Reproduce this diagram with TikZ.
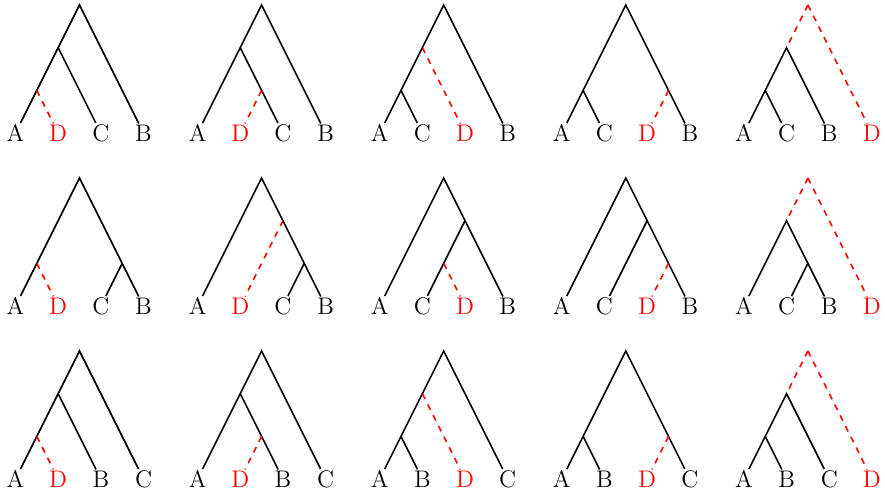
\documentclass[tikz,border=0pt]{standalone}
\usepackage{tikz}

\tikzset{
  leaf/.style={inner sep=0.5pt, font=\large},
  branch/.style={black, thick},
  added/.style={red, thick, dashed}
}

\begin{document}
\begin{tikzpicture}
\useasboundingbox (-0.272,-6.345) rectangle (15.28,2.338);
% row 1
\begin{scope}[shift={(0,0)}]
  \node[leaf] (A1) at (0,0) {A}; \node[leaf,red] (D1) at (0.75,0) {D}; \node[leaf] (C1) at (1.5,0) {C}; \node[leaf] (B1) at (2.25,0) {B};
  \coordinate (r1) at (1.125,2.25); \coordinate (m1) at (0.75,1.5); \coordinate (p1) at (0.375,0.75);
  \draw[branch] (A1) -- (r1) -- (B1) (m1) -- (C1);
  \draw[added] (p1) -- (D1);
\end{scope}
\begin{scope}[shift={(3.2,0)}]
  \node[leaf] (A2) at (0,0) {A}; \node[leaf,red] (D2) at (0.75,0) {D}; \node[leaf] (C2) at (1.5,0) {C}; \node[leaf] (B2) at (2.25,0) {B};
  \coordinate (r2) at (1.125,2.25); \coordinate (m2) at (0.75,1.5); \coordinate (p2) at (1.125,0.75);
  \draw[branch] (A2) -- (r2) -- (B2) (m2) -- (C2);
  \draw[added] (p2) -- (D2);
\end{scope}
\begin{scope}[shift={(6.4,0)}]
  \node[leaf] (A3) at (0,0) {A}; \node[leaf] (C3) at (0.75,0) {C}; \node[leaf,red] (D3) at (1.5,0) {D}; \node[leaf] (B3) at (2.25,0) {B};
  \coordinate (r3) at (1.125,2.25); \coordinate (m3) at (0.375,0.75); \coordinate (p3) at (0.75,1.5);
  \draw[branch] (A3) -- (r3) -- (B3) (m3) -- (C3);
  \draw[added] (p3) -- (D3);
\end{scope}
\begin{scope}[shift={(9.6,0)}]
  \node[leaf] (A4) at (0,0) {A}; \node[leaf] (C4) at (0.75,0) {C}; \node[leaf,red] (D4) at (1.5,0) {D}; \node[leaf] (B4) at (2.25,0) {B};
  \coordinate (r4) at (1.125,2.25); \coordinate (m4) at (0.375,0.75); \coordinate (p4) at (1.875,0.75);
  \draw[branch] (A4) -- (r4) -- (B4) (m4) -- (C4);
  \draw[added] (p4) -- (D4);
\end{scope}
\begin{scope}[shift={(12.8,0)}]
  \node[leaf] (A5) at (0,0) {A}; \node[leaf] (C5) at (0.75,0) {C}; \node[leaf] (B5) at (1.5,0) {B}; \node[leaf,red] (D5) at (2.25,0) {D};
  \coordinate (r5) at (1.125,2.25); \coordinate (m5) at (0.375,0.75); \coordinate (n5) at (0.75,1.5);
  \draw[branch] (A5) -- (n5) -- (B5) (m5) -- (C5);
  \draw[added] (r5) -- (n5) (r5) -- (D5);
\end{scope}
% row 2
\begin{scope}[shift={(0,-3.04)}]
  \node[leaf] (A6) at (0,0) {A}; \node[leaf,red] (D6) at (0.75,0) {D}; \node[leaf] (C6) at (1.5,0) {C}; \node[leaf] (B6) at (2.25,0) {B};
  \coordinate (r6) at (1.125,2.25); \coordinate (m6) at (1.875,0.75); \coordinate (p6) at (0.375,0.75);
  \draw[branch] (A6) -- (r6) -- (B6) (m6) -- (C6);
  \draw[added] (p6) -- (D6);
\end{scope}
\begin{scope}[shift={(3.2,-3.04)}]
  \node[leaf] (A7) at (0,0) {A}; \node[leaf,red] (D7) at (0.75,0) {D}; \node[leaf] (C7) at (1.5,0) {C}; \node[leaf] (B7) at (2.25,0) {B};
  \coordinate (r7) at (1.125,2.25); \coordinate (m7) at (1.875,0.75); \coordinate (p7) at (1.5,1.5);
  \draw[branch] (A7) -- (r7) -- (B7) (m7) -- (C7);
  \draw[added] (p7) -- (D7);
\end{scope}
\begin{scope}[shift={(6.4,-3.04)}]
  \node[leaf] (A8) at (0,0) {A}; \node[leaf] (C8) at (0.75,0) {C}; \node[leaf,red] (D8) at (1.5,0) {D}; \node[leaf] (B8) at (2.25,0) {B};
  \coordinate (r8) at (1.125,2.25); \coordinate (m8) at (1.5,1.5); \coordinate (p8) at (1.125,0.75);
  \draw[branch] (A8) -- (r8) -- (B8) (m8) -- (C8);
  \draw[added] (p8) -- (D8);
\end{scope}
\begin{scope}[shift={(9.6,-3.04)}]
  \node[leaf] (A9) at (0,0) {A}; \node[leaf] (C9) at (0.75,0) {C}; \node[leaf,red] (D9) at (1.5,0) {D}; \node[leaf] (B9) at (2.25,0) {B};
  \coordinate (r9) at (1.125,2.25); \coordinate (m9) at (1.5,1.5); \coordinate (p9) at (1.875,0.75);
  \draw[branch] (A9) -- (r9) -- (B9) (m9) -- (C9);
  \draw[added] (p9) -- (D9);
\end{scope}
\begin{scope}[shift={(12.8,-3.04)}]
  \node[leaf] (A10) at (0,0) {A}; \node[leaf] (C10) at (0.75,0) {C}; \node[leaf] (B10) at (1.5,0) {B}; \node[leaf,red] (D10) at (2.25,0) {D};
  \coordinate (r10) at (1.125,2.25); \coordinate (m10) at (1.125,0.75); \coordinate (n10) at (0.75,1.5);
  \draw[branch] (A10) -- (n10) -- (B10) (m10) -- (C10);
  \draw[added] (r10) -- (n10) (r10) -- (D10);
\end{scope}
% row 3
\begin{scope}[shift={(0,-6.08)}]
  \node[leaf] (A11) at (0,0) {A}; \node[leaf,red] (D11) at (0.75,0) {D}; \node[leaf] (B11) at (1.5,0) {B}; \node[leaf] (C11) at (2.25,0) {C};
  \coordinate (r11) at (1.125,2.25); \coordinate (m11) at (0.75,1.5); \coordinate (p11) at (0.375,0.75);
  \draw[branch] (A11) -- (r11) -- (C11) (m11) -- (B11);
  \draw[added] (p11) -- (D11);
\end{scope}
\begin{scope}[shift={(3.2,-6.08)}]
  \node[leaf] (A12) at (0,0) {A}; \node[leaf,red] (D12) at (0.75,0) {D}; \node[leaf] (B12) at (1.5,0) {B}; \node[leaf] (C12) at (2.25,0) {C};
  \coordinate (r12) at (1.125,2.25); \coordinate (m12) at (0.75,1.5); \coordinate (p12) at (1.125,0.75);
  \draw[branch] (A12) -- (r12) -- (C12) (m12) -- (B12);
  \draw[added] (p12) -- (D12);
\end{scope}
\begin{scope}[shift={(6.4,-6.08)}]
  \node[leaf] (A13) at (0,0) {A}; \node[leaf] (B13) at (0.75,0) {B}; \node[leaf,red] (D13) at (1.5,0) {D}; \node[leaf] (C13) at (2.25,0) {C};
  \coordinate (r13) at (1.125,2.25); \coordinate (m13) at (0.375,0.75); \coordinate (p13) at (0.75,1.5);
  \draw[branch] (A13) -- (r13) -- (C13) (m13) -- (B13);
  \draw[added] (p13) -- (D13);
\end{scope}
\begin{scope}[shift={(9.6,-6.08)}]
  \node[leaf] (A14) at (0,0) {A}; \node[leaf] (B14) at (0.75,0) {B}; \node[leaf,red] (D14) at (1.5,0) {D}; \node[leaf] (C14) at (2.25,0) {C};
  \coordinate (r14) at (1.125,2.25); \coordinate (m14) at (0.375,0.75); \coordinate (p14) at (1.875,0.75);
  \draw[branch] (A14) -- (r14) -- (C14) (m14) -- (B14);
  \draw[added] (p14) -- (D14);
\end{scope}
\begin{scope}[shift={(12.8,-6.08)}]
  \node[leaf] (A15) at (0,0) {A}; \node[leaf] (B15) at (0.75,0) {B}; \node[leaf] (C15) at (1.5,0) {C}; \node[leaf,red] (D15) at (2.25,0) {D};
  \coordinate (r15) at (1.125,2.25); \coordinate (m15) at (0.375,0.75); \coordinate (n15) at (0.75,1.5);
  \draw[branch] (A15) -- (n15) -- (C15) (m15) -- (B15);
  \draw[added] (r15) -- (n15) (r15) -- (D15);
\end{scope}
\end{tikzpicture}
\end{document}
